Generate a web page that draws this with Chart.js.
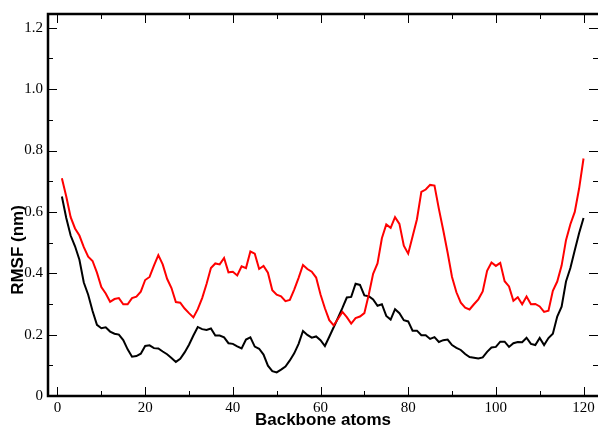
<!DOCTYPE html>
<html>
<head>
<meta charset="utf-8">
<script src="https://cdn.jsdelivr.net/npm/chart.js@4.4.1/dist/chart.umd.min.js"></script>
<style>
html,body{margin:0;padding:0;background:#fff;}
#wrap{width:598px;height:428px;position:relative;}
</style>
</head>
<body>
<div id="wrap"><canvas id="c" width="598" height="428"></canvas></div>
<script>
const atomIndex = [1,2,3,4,5,6,7,8,9,10,11,12,13,14,15,16,17,18,19,20,
21,22,23,24,25,26,27,28,29,30,31,32,33,34,35,36,37,38,39,40,
41,42,43,44,45,46,47,48,49,50,51,52,53,54,55,56,57,58,59,60,
61,62,63,64,65,66,67,68,69,70,71,72,73,74,75,76,77,78,79,80,
81,82,83,84,85,86,87,88,89,90,91,92,93,94,95,96,97,98,99,100,
101,102,103,104,105,106,107,108,109,110,111,112,113,114,115,116,117,118,119,120];

const rmsfBlack = [0.65,0.58,0.523,0.488,0.444,0.37,0.33,0.277,0.232,0.221,
0.224,0.21,0.203,0.2,0.182,0.152,0.128,0.13,0.138,0.163,
0.165,0.156,0.155,0.145,0.136,0.124,0.111,0.121,0.142,0.167,
0.197,0.225,0.218,0.215,0.22,0.197,0.197,0.191,0.172,0.17,
0.162,0.155,0.184,0.191,0.161,0.154,0.135,0.099,0.081,0.077,
0.086,0.096,0.116,0.139,0.17,0.212,0.199,0.19,0.194,0.182,
0.163,0.193,0.224,0.255,0.287,0.321,0.323,0.366,0.362,0.328,
0.325,0.315,0.294,0.299,0.261,0.249,0.283,0.27,0.247,0.243,
0.213,0.213,0.198,0.198,0.186,0.192,0.176,0.182,0.184,0.166,
0.157,0.15,0.137,0.127,0.125,0.122,0.126,0.144,0.158,0.16,
0.177,0.177,0.16,0.172,0.176,0.175,0.19,0.17,0.166,0.189,
0.166,0.189,0.203,0.259,0.291,0.373,0.417,0.475,0.531,0.58];

const rmsfRed = [0.71,0.65,0.583,0.546,0.523,0.485,0.454,0.44,0.402,0.355,
0.334,0.307,0.316,0.319,0.299,0.299,0.319,0.324,0.34,0.378,
0.388,0.425,0.459,0.429,0.382,0.352,0.306,0.304,0.285,0.27,
0.256,0.283,0.319,0.365,0.417,0.432,0.429,0.45,0.403,0.405,
0.393,0.423,0.417,0.471,0.464,0.414,0.424,0.402,0.345,0.33,
0.325,0.309,0.313,0.347,0.385,0.427,0.414,0.405,0.386,0.331,
0.286,0.247,0.23,0.252,0.274,0.257,0.236,0.254,0.259,0.27,
0.33,0.398,0.432,0.514,0.559,0.548,0.583,0.561,0.49,0.464,
0.52,0.576,0.665,0.673,0.688,0.686,0.61,0.54,0.467,0.388,
0.338,0.304,0.288,0.282,0.299,0.315,0.341,0.408,0.435,0.424,
0.434,0.374,0.357,0.31,0.322,0.299,0.324,0.299,0.3,0.292,
0.274,0.278,0.343,0.373,0.425,0.508,0.56,0.6,0.677,0.774];

const xMajorTicks = [0,20,40,60,80,100,120];
const xMinorTicks = [10,30,50,70,90,110];
const yMajorTicks = [0,0.2,0.4,0.6,0.8,1.0,1.2];
const yMinorTicks = [0.1,0.3,0.5,0.7,0.9,1.1];
const xTitle = 'Backbone atoms';
const yTitle = 'RMSF (nm)';

Chart.defaults.color = '#000';

const toPoints = (xs, ys) => xs.map((x, i) => ({x: x, y: ys[i]}));

const framePlugin = {
  id: 'xmFrame',
  afterDraw(chart) {
    const {ctx, chartArea: a, scales} = chart;
    const xs = scales.x, ys = scales.y;
    const rightEdge = a.right + 2;
    ctx.save();
    ctx.strokeStyle = '#000';
    ctx.lineWidth = 1;
    const seg = (x1, y1, x2, y2) => { ctx.beginPath(); ctx.moveTo(x1, y1); ctx.lineTo(x2, y2); ctx.stroke(); };
    const xt = (v, len) => {
      const p = Math.round(xs.getPixelForValue(v)) + 0.5;
      seg(p, a.bottom, p, a.bottom - len);
      seg(p, a.top, p, a.top + len);
    };
    const yt = (v, len) => {
      const p = Math.round(ys.getPixelForValue(v)) + 0.5;
      seg(a.left, p, a.left + len, p);
      seg(a.right, p, a.right - len, p);
    };
    xMajorTicks.forEach(v => xt(v, 9));
    xMinorTicks.forEach(v => xt(v, 5));
    yMajorTicks.forEach(v => yt(v, 9));
    yMinorTicks.forEach(v => yt(v, 5));
    ctx.lineWidth = 2.5;
    ctx.beginPath();
    ctx.moveTo(rightEdge, a.top);
    ctx.lineTo(a.left, a.top);
    ctx.lineTo(a.left, a.bottom);
    ctx.lineTo(rightEdge, a.bottom);
    ctx.lineTo(rightEdge, a.top);
    ctx.stroke();
    ctx.fillStyle = '#000';
    ctx.font = 'bold 17px "Liberation Sans", Arial, sans-serif';
    ctx.textAlign = 'center';
    ctx.textBaseline = 'middle';
    ctx.translate(18.5, 250);
    ctx.rotate(-Math.PI / 2);
    ctx.fillText(yTitle, 0, 0);
    ctx.restore();
  }
};

new Chart(document.getElementById('c'), {
  type: 'line',
  data: {
    datasets: [
      {label: 'red', data: toPoints(atomIndex, rmsfRed), borderColor: '#ff0000', borderWidth: 2, pointRadius: 0, fill: false, tension: 0, order: 0},
      {label: 'black', data: toPoints(atomIndex, rmsfBlack), borderColor: '#000000', borderWidth: 2, pointRadius: 0, fill: false, tension: 0, order: 1}
    ]
  },
  options: {
    responsive: false,
    devicePixelRatio: 1,
    animation: false,
    layout: {padding: {left: 0, right: 0, top: 10, bottom: 0}},
    plugins: {legend: {display: false}, tooltip: {enabled: false}},
    scales: {
      x: {
        type: 'linear',
        min: -2.167,
        max: 123.3,
        grid: {display: false, drawTicks: false},
        border: {display: false},
        afterBuildTicks: s => { s.ticks = xMajorTicks.map(v => ({value: v})); },
        afterFit: s => { s.height = 32; },
        ticks: {
          font: {family: '"Liberation Serif", "Times New Roman", serif', size: 15},
          color: '#000', padding: 3, maxRotation: 0, autoSkip: false,
          callback: v => String(v)
        },
        title: {
          display: true, text: xTitle, color: '#000', padding: 0,
          font: {family: '"Liberation Sans", Arial, sans-serif', size: 17, weight: 'bold', lineHeight: 0.85}
        }
      },
      y: {
        type: 'linear',
        min: 0,
        max: 1.245,
        grid: {display: false, drawTicks: false},
        border: {display: false},
        afterBuildTicks: s => { s.ticks = yMajorTicks.map(v => ({value: v})); },
        afterFit: s => { s.width = 48; },
        ticks: {
          font: {family: '"Liberation Serif", "Times New Roman", serif', size: 15},
          color: '#000', padding: 5,
          callback: v => (v === 0 ? '0' : Number(v).toFixed(1))
        }
      }
    }
  },
  plugins: [framePlugin]
});
</script>
</body>
</html>
